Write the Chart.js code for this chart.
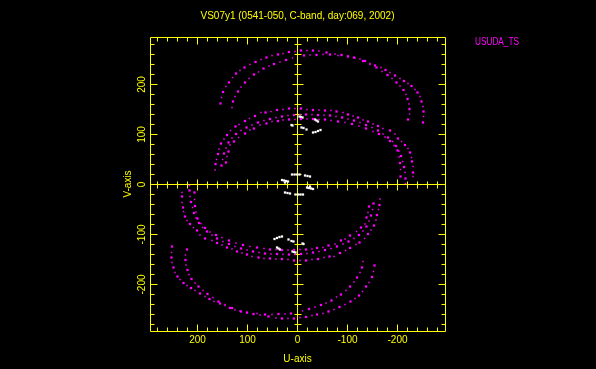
<!DOCTYPE html>
<html>
<head>
<meta charset="utf-8">
<script src="https://cdn.jsdelivr.net/npm/chart.js@4.4.0/dist/chart.umd.min.js"></script>
<style>
  html, body { margin: 0; padding: 0; background: #000; }
</style>
</head>
<body>
<canvas id="uvChart" width="596" height="369"></canvas>
<script>
const chartTitle = 'VS07y1 (0541-050, C-band, day:069, 2002)';
const stationName = 'USUDA_TS';
const uLabel = 'U-axis';
const vLabel = 'V-axis';

const uRange = [-295, 295];
const vRange = [-293, 295];
const majorTicks = [-200, -100, 0, 100, 200];
const tickSteps = [-280, -260, -240, -220, -200, -180, -160, -140, -120, -100, -80, -60, -40, -20,
  0, 20, 40, 60, 80, 100, 120, 140, 160, 180, 200, 220, 240, 260, 280];

// upper half of each track, [u, v]; the lower half is the conjugate
const trackA = [
  [154, 162], [152, 174], [149, 185], [143, 196], [137, 204], [130, 214], [123, 222], [115, 228],
  [106, 234], [95, 240], [84, 245], [73, 250], [62, 254], [51, 258], [39, 260], [29, 262],
  [17, 265], [5, 266], [-7, 268], [-19, 268], [-31, 268], [-43, 267], [-58, 264], [-75, 261],
  [-88, 259], [-101, 257], [-113, 254], [-125, 251], [-135, 247], [-145, 242], [-155, 238],
  [-167, 234], [-176, 229], [-185, 224], [-195, 218], [-205, 212], [-213, 207], [-221, 202],
  [-228, 197], [-235, 190], [-240, 184], [-245, 176], [-248, 166], [-251, 156], [-252, 146],
  [-252, 136], [-251, 124]
];
const trackB = [
  [131, 154], [129, 166], [125, 176], [119, 186], [113, 195], [105, 204], [97, 212], [87, 220],
  [78, 225], [68, 232], [57, 237], [47, 241], [35, 245], [23, 249], [10, 253], [-13, 258],
  [-25, 259], [-38, 259], [-51, 260], [-65, 260], [-81, 258], [-101, 256], [-115, 253],
  [-131, 247], [-145, 240], [-158, 234], [-169, 226], [-180, 219], [-189, 212], [-198, 204],
  [-205, 197], [-212, 189], [-217, 180], [-220, 171], [-223, 161], [-224, 151], [-224, 141],
  [-221, 130]
];
const trackC = [
  [165, 29], [164, 41], [162, 50], [159, 61], [157, 71], [153, 82], [147, 91], [141, 99],
  [134, 108], [124, 116], [117, 120], [105, 127], [96, 132], [85, 137], [73, 144], [64, 144],
  [53, 146], [41, 149], [29, 150], [17, 152], [5, 152], [-7, 152], [-19, 150], [-31, 149],
  [-43, 149], [-55, 148], [-67, 148], [-78, 146], [-91, 144], [-101, 140], [-111, 137],
  [-121, 134], [-131, 129], [-141, 126], [-151, 121], [-161, 117], [-171, 112], [-185, 108],
  [-195, 101], [-201, 92], [-208, 86], [-215, 79], [-221, 72], [-225, 64], [-228, 54],
  [-229, 46], [-231, 36], [-231, 24], [-231, 16]
];
const trackD = [
  [152, 38], [150, 50], [147, 62], [143, 73], [138, 84], [131, 93], [123, 101], [113, 108],
  [102, 114], [91, 119], [79, 124], [67, 128], [55, 131], [43, 134], [31, 136], [19, 138],
  [7, 139], [-5, 140], [-17, 140], [-29, 140], [-41, 139], [-53, 139], [-65, 138], [-77, 136],
  [-89, 134], [-101, 131], [-113, 128], [-125, 124], [-137, 119], [-149, 114], [-161, 108],
  [-171, 101], [-181, 94], [-190, 86], [-197, 77], [-203, 67], [-207, 57], [-210, 46],
  [-213, 35], [-215, 24], [-216, 12], [-216, 2]
];
const trackE = [
  [143, 44], [141, 56], [138, 66], [135, 79], [127, 86], [118, 94], [105, 102], [95, 109],
  [87, 112], [75, 119], [62, 122], [51, 126], [39, 127], [29, 129], [17, 130], [5, 130],
  [-7, 131], [-19, 131], [-31, 131], [-43, 130], [-55, 130], [-67, 128], [-81, 126], [-95, 124],
  [-109, 121], [-123, 117], [-137, 112], [-151, 106], [-163, 101], [-175, 95], [-185, 87],
  [-193, 78], [-200, 68], [-203, 55], [-205, 43], [-206, 30], [-206, 16]
];
const shortBaselines = [
  [12, 119], [10, 118], [-4, 136], [-7, 135], [-10, 134], [-35, 130], [-38, 128], [-41, 126],
  [-8, 114], [-12, 113], [-18, 110], [-31, 104], [-36, 105], [-41, 107], [-46, 109],
  [11, 20], [6, 20], [1, 20], [-4, 20], [-15, 18], [-20, 17], [-25, 16],
  [31, 9], [27, 8], [23, 7], [19, 6], [25, 4]
];

// a uv-plot shows every sample together with its conjugate (-u, -v)
function withConjugates(tracks) {
  const pts = [];
  tracks.forEach(track => track.forEach(([u, v]) => {
    pts.push({ x: u, y: v });
    pts.push({ x: -u, y: -v });
  }));
  return pts;
}

const yellow = '#ffff00';
const magenta = '#ff00ff';
const labelFont = { family: 'Liberation Sans', size: 10, weight: 'normal', lineHeight: 1.2 };

const uvFrame = {
  id: 'uvFrame',
  beforeDraw(chart) {
    const ctx = chart.ctx;
    ctx.save();
    ctx.fillStyle = '#000';
    ctx.fillRect(0, 0, chart.width, chart.height);
    ctx.restore();
  },
  beforeDatasetsDraw(chart) {
    const { ctx, chartArea: a, scales: { x, y } } = chart;
    const px = v => Math.floor(x.getPixelForValue(v)) + 0.5;
    const py = v => Math.floor(y.getPixelForValue(v)) + 0.5;
    const L = a.left + 0.5, R = a.right + 0.5, T = a.top + 0.5, B = a.bottom + 0.5;
    const x0 = px(0), y0 = py(0);

    ctx.save();
    ctx.strokeStyle = yellow;
    ctx.lineWidth = 1;
    ctx.beginPath();
    ctx.rect(L, T, R - L, B - T);
    ctx.moveTo(x0, T); ctx.lineTo(x0, B);
    ctx.moveTo(L, y0); ctx.lineTo(R, y0);
    tickSteps.forEach(v => {
      const major = majorTicks.includes(v);
      const len = major ? 7 : 4;
      const cross = major ? 5 : 3;
      const tx = px(v), ty = py(v);
      // frame ticks point inwards
      ctx.moveTo(tx, T); ctx.lineTo(tx, T + len);
      ctx.moveTo(tx, B); ctx.lineTo(tx, B - len);
      ctx.moveTo(L, ty); ctx.lineTo(L + len, ty);
      ctx.moveTo(R, ty); ctx.lineTo(R - len, ty);
      // ticks across the axes through the origin
      ctx.moveTo(tx, y0 - cross); ctx.lineTo(tx, y0 + cross + 1);
      ctx.moveTo(x0 - cross, ty); ctx.lineTo(x0 + cross + 1, ty);
    });
    ctx.stroke();

    ctx.fillStyle = magenta;
    ctx.font = '10px "Liberation Sans"';
    ctx.textBaseline = 'middle';
    ctx.fillText(stationName, 475, 42, 44);
    ctx.restore();
  }
};

// samples alternate between a dash and a fainter dot along each track
const dotSize = ctx => (Math.floor(ctx.dataIndex / 2) % 2 ? 1.0 : 1.6);

new Chart(document.getElementById('uvChart'), {
  type: 'scatter',
  data: {
    datasets: [
      {
        label: stationName,
        data: withConjugates([trackA, trackB, trackC, trackD, trackE]),
        backgroundColor: magenta,
        pointStyle: 'rect',
        pointRadius: dotSize,
        pointBorderWidth: 0
      },
      {
        label: 'short',
        data: withConjugates([shortBaselines]),
        backgroundColor: '#ffffff',
        pointStyle: 'rect',
        pointRadius: 1.6,
        pointBorderWidth: 0
      }
    ]
  },
  options: {
    responsive: false,
    devicePixelRatio: 1,
    animation: false,
    events: [],
    layout: { padding: { left: 0, right: 151, top: 0, bottom: 0 } },
    plugins: {
      legend: { display: false },
      tooltip: { enabled: false },
      title: {
        display: true,
        fullSize: false,
        text: chartTitle,
        color: yellow,
        font: labelFont,
        padding: { top: 10, bottom: 15 }
      }
    },
    scales: {
      x: {
        type: 'linear',
        position: 'bottom',
        reverse: true,
        min: uRange[0],
        max: uRange[1],
        afterBuildTicks: s => { s.ticks = majorTicks.map(v => ({ value: v })); },
        afterFit: s => { s.height = 38; },
        grid: { display: false, drawTicks: false },
        border: { display: false },
        ticks: { color: yellow, font: labelFont, padding: 3, maxRotation: 0, autoSkip: false },
        title: { display: true, text: uLabel, color: yellow, font: labelFont, padding: { top: 0, bottom: 4 } }
      },
      y: {
        type: 'linear',
        position: 'left',
        min: vRange[0],
        max: vRange[1],
        afterBuildTicks: s => { s.ticks = majorTicks.map(v => ({ value: v })); },
        afterFit: s => { s.width = 150; },
        grid: { display: false, drawTicks: false },
        border: { display: false },
        ticks: {
          color: yellow, font: labelFont, padding: -2,
          minRotation: 90, maxRotation: 90, crossAlign: 'center', autoSkip: false
        },
        title: { display: true, text: vLabel, color: yellow, font: labelFont, padding: { top: 122, bottom: 0 } }
      }
    }
  },
  plugins: [uvFrame]
});
</script>
</body>
</html>
